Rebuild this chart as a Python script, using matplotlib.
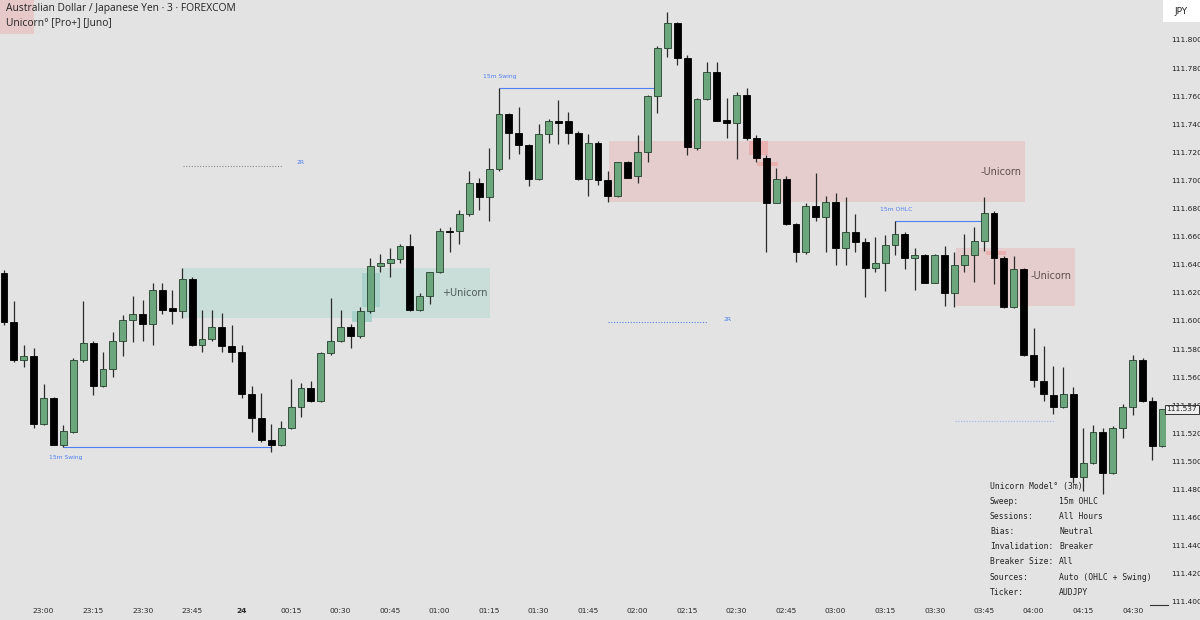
import matplotlib
matplotlib.use("Agg")
import matplotlib.pyplot as plt
from matplotlib.patches import Rectangle
import numpy as np

# ── colours ─────────────────────────────────────────────
BG = "#e3e3e3"
UP = "#6ca67c"
UP_EDGE = "#24402c"
DOWN = "#000000"
WICK = "#2a2a2a"
TEAL_ZONE = "#c9ddd9"
TEAL_INNER = "#a9d2cb"
RED_ZONE = "#e6cdcd"
RED_INNER = "#eab1b1"
BLUE = "#4f7ff0"
TXT = "#222222"

# ── candles (3m AUDJPY, 22:48 -> 04:39) ─────────────────
opens = [111.634, 111.599, 111.572, 111.575, 111.527, 111.545, 111.512, 111.521, 111.572, 111.584,
         111.554, 111.566, 111.586, 111.601, 111.605, 111.598, 111.622, 111.609, 111.607, 111.630,
         111.583, 111.587, 111.596, 111.582, 111.578, 111.548, 111.531, 111.515, 111.512, 111.524,
         111.539, 111.552, 111.543, 111.577, 111.586, 111.596, 111.589, 111.607, 111.639, 111.641,
         111.644, 111.653, 111.608, 111.618, 111.635, 111.664, 111.664, 111.676, 111.698, 111.688,
         111.708, 111.747, 111.734, 111.725, 111.701, 111.733, 111.742, 111.742, 111.734, 111.701,
         111.727, 111.700, 111.689, 111.713, 111.703, 111.720, 111.760, 111.794, 111.812, 111.787,
         111.723, 111.758, 111.777, 111.743, 111.741, 111.761, 111.730, 111.716, 111.684, 111.701,
         111.669, 111.649, 111.682, 111.674, 111.685, 111.652, 111.663, 111.656, 111.638, 111.641,
         111.654, 111.662, 111.645, 111.647, 111.627, 111.647, 111.620, 111.640, 111.647, 111.657,
         111.677, 111.645, 111.610, 111.637, 111.576, 111.557, 111.547, 111.539, 111.548, 111.489,
         111.499, 111.521, 111.492, 111.524, 111.539, 111.572, 111.543, 111.511]
highs = [111.636, 111.614, 111.583, 111.581, 111.555, 111.546, 111.526, 111.574, 111.614, 111.586,
         111.578, 111.592, 111.604, 111.618, 111.615, 111.627, 111.627, 111.622, 111.638, 111.631,
         111.608, 111.608, 111.606, 111.597, 111.583, 111.554, 111.549, 111.527, 111.529, 111.559,
         111.556, 111.557, 111.578, 111.616, 111.608, 111.598, 111.610, 111.645, 111.648, 111.652,
         111.655, 111.662, 111.620, 111.635, 111.666, 111.667, 111.679, 111.707, 111.702, 111.723,
         111.766, 111.748, 111.752, 111.726, 111.740, 111.744, 111.757, 111.749, 111.735, 111.733,
         111.728, 111.707, 111.713, 111.714, 111.732, 111.761, 111.796, 111.820, 111.813, 111.789,
         111.759, 111.784, 111.784, 111.759, 111.763, 111.766, 111.732, 111.718, 111.709, 111.703,
         111.670, 111.684, 111.705, 111.689, 111.691, 111.688, 111.676, 111.659, 111.660, 111.661,
         111.671, 111.663, 111.652, 111.648, 111.648, 111.653, 111.649, 111.662, 111.667, 111.688,
         111.678, 111.646, 111.646, 111.638, 111.595, 111.582, 111.568, 111.567, 111.553, 111.524,
         111.526, 111.524, 111.525, 111.541, 111.576, 111.574, 111.546, 111.537]
lows = [111.597, 111.571, 111.567, 111.524, 111.526, 111.512, 111.510, 111.520, 111.571, 111.547,
        111.553, 111.560, 111.575, 111.585, 111.586, 111.583, 111.605, 111.598, 111.602, 111.582,
        111.578, 111.586, 111.578, 111.571, 111.545, 111.521, 111.514, 111.507, 111.511, 111.523,
        111.532, 111.542, 111.542, 111.576, 111.585, 111.581, 111.588, 111.606, 111.635, 111.631,
        111.641, 111.607, 111.607, 111.612, 111.634, 111.649, 111.655, 111.675, 111.679, 111.671,
        111.707, 111.715, 111.719, 111.696, 111.700, 111.727, 111.726, 111.726, 111.700, 111.689,
        111.697, 111.685, 111.688, 111.702, 111.698, 111.713, 111.748, 111.788, 111.782, 111.718,
        111.722, 111.757, 111.742, 111.730, 111.715, 111.729, 111.713, 111.649, 111.684, 111.668,
        111.642, 111.648, 111.671, 111.649, 111.640, 111.640, 111.649, 111.617, 111.635, 111.621,
        111.647, 111.637, 111.622, 111.627, 111.627, 111.611, 111.610, 111.635, 111.628, 111.650,
        111.626, 111.609, 111.609, 111.575, 111.553, 111.543, 111.534, 111.538, 111.485, 111.479,
        111.498, 111.477, 111.491, 111.517, 111.533, 111.542, 111.501, 111.510]
closes = [111.599, 111.572, 111.575, 111.527, 111.545, 111.512, 111.522, 111.572, 111.584, 111.554,
          111.566, 111.586, 111.601, 111.605, 111.598, 111.622, 111.608, 111.607, 111.630, 111.583,
          111.587, 111.596, 111.582, 111.578, 111.548, 111.531, 111.515, 111.512, 111.524, 111.539,
          111.552, 111.543, 111.577, 111.586, 111.596, 111.589, 111.607, 111.639, 111.641, 111.644,
          111.653, 111.608, 111.618, 111.635, 111.664, 111.663, 111.676, 111.698, 111.688, 111.708,
          111.747, 111.734, 111.725, 111.701, 111.733, 111.742, 111.741, 111.734, 111.701, 111.727,
          111.700, 111.689, 111.713, 111.702, 111.720, 111.760, 111.794, 111.812, 111.787, 111.724,
          111.758, 111.777, 111.742, 111.741, 111.761, 111.730, 111.716, 111.684, 111.701, 111.669,
          111.649, 111.682, 111.674, 111.685, 111.652, 111.663, 111.656, 111.638, 111.641, 111.654,
          111.662, 111.645, 111.647, 111.627, 111.647, 111.620, 111.640, 111.647, 111.657, 111.677,
          111.645, 111.610, 111.637, 111.576, 111.558, 111.548, 111.539, 111.548, 111.489, 111.499,
          111.521, 111.492, 111.524, 111.539, 111.572, 111.543, 111.511, 111.537]

time_labels = ["23:00", "23:15", "23:30", "23:45", "24", "00:15", "00:30", "00:45", "01:00",
               "01:15", "01:30", "01:45", "02:00", "02:15", "02:30", "02:45", "03:00", "03:15",
               "03:30", "03:45", "04:00", "04:15", "04:30"]
time_label_idx = [4 + 5 * k for k in range(len(time_labels))]
price_ticks = [111.400 + 0.02 * k for k in range(21)]
last_price = 111.537

# zones: (x0, x1, bottom, top) in bar index / price
bull_zone = (18.1, 49.1, 111.602, 111.638)
bull_inner = [(36.2, 38.0, 111.610, 111.634), (35.1, 37.2, 111.599, 111.607)]
bear_zones = [(61.1, 103.1, 111.685, 111.728), (96.2, 108.2, 111.611, 111.652)]
bear_inner = [(75.2, 77.2, 111.718, 111.728), (76.1, 78.2, 111.710, 111.713),
              (99.2, 101.2, 111.647, 111.650)]

# swept levels: (x0, x1, price, label, label_x, label_y)
sweeps = [(6, 27, 111.510, "15m Swing", 6.2, 111.503),
          (50, 66, 111.766, "15m Swing", 50.1, 111.774),
          (90, 99, 111.671, "15m OHLC", 90.1, 111.679)]
# 2R targets: (x0, x1, price, colour)
targets = [(18.1, 28.1, 111.710, "#8a8a8a"), (61.0, 71.0, 111.599, "#5a7fe0"),
           (96.1, 106.2, 111.529, "#9db2ee")]

info_rows = [("Unicorn Model° (3m)", ""), ("Sweep:", "15m OHLC"), ("Sessions:", "All Hours"),
             ("Bias:", "Neutral"), ("Invalidation:", "Breaker"), ("Breaker Size:", "All"),
             ("Sources:", "Auto (OHLC + Swing)"), ("Ticker:", "AUDJPY")]

# ── figure ──────────────────────────────────────────────
W, H = 1200, 620
fig = plt.figure(figsize=(W / 100, H / 100), dpi=100, facecolor=BG)
ax = fig.add_axes([0, 18 / H, 1166 / W, 602 / H])
ax.set_facecolor(BG)
for s in ax.spines.values():
    s.set_visible(False)

n = len(opens)
x = np.arange(n)
o = np.array(opens); c = np.array(closes)
hi = np.array(highs); lo = np.array(lows)
up = c >= o

# zones
x0, x1, b, t = bull_zone
ax.add_patch(Rectangle((x0, b), x1 - x0, t - b, color=TEAL_ZONE, lw=0, zorder=1))
for x0, x1, b, t in bull_inner:
    ax.add_patch(Rectangle((x0, b), x1 - x0, t - b, color=TEAL_INNER, lw=0, zorder=1.2))
for x0, x1, b, t in bear_zones:
    ax.add_patch(Rectangle((x0, b), x1 - x0, t - b, color=RED_ZONE, lw=0, zorder=1))
for x0, x1, b, t in bear_inner:
    ax.add_patch(Rectangle((x0, b), x1 - x0, t - b, color=RED_INNER, lw=0, zorder=1.2))

ax.text(48.8, 111.620, "+Unicorn", ha="right", va="center", fontsize=7, color="#4d5a57",
        family="DejaVu Sans", zorder=2)
ax.text(102.8, 111.706, "-Unicorn", ha="right", va="center", fontsize=7, color="#5d4d4d",
        family="DejaVu Sans", zorder=2)
ax.text(107.8, 111.632, "-Unicorn", ha="right", va="center", fontsize=7, color="#5d4d4d",
        family="DejaVu Sans", zorder=2)

# swept levels
for x0, x1, p, lab, lx, ly in sweeps:
    ax.hlines(p, x0, x1, color=BLUE, lw=0.8, zorder=2)
    ax.text(lx, ly, lab, ha="center", va="center", fontsize=4.3, color=BLUE, zorder=2)

# targets
for x0, x1, p, col in targets:
    ax.hlines(p, x0, x1, color=col, lw=0.8, linestyles=(0, (1, 1.5)), zorder=2)
ax.text(30.0, 111.713, "2R", ha="center", va="center", fontsize=4.3, color=BLUE)
ax.text(73.1, 111.601, "2R", ha="center", va="center", fontsize=4.3, color=BLUE)

# candles
bw = 0.7
ax.vlines(x, lo, hi, color=WICK, lw=0.9, zorder=3)
body_lo = np.minimum(o, c)
body_h = np.maximum(np.abs(c - o), 0.0012)
ax.bar(x[up], body_h[up], bw, bottom=body_lo[up], color=UP, edgecolor=UP_EDGE, lw=0.6, zorder=4)
ax.bar(x[~up], body_h[~up], bw, bottom=body_lo[~up], color=DOWN, edgecolor=DOWN, lw=0.6, zorder=4)

ax.set_xlim(-0.404, 117.37)
ax.set_ylim(111.40071, 111.82842)

# axes ticks
ax.yaxis.tick_right()
ax.set_yticks(price_ticks)
ax.set_yticklabels([f"{p:.3f}" for p in price_ticks])
ax.tick_params(axis="y", length=0, pad=3.5, labelsize=5.4, labelcolor="#1e1e1e")
ax.set_xticks(time_label_idx)
ax.set_xticklabels(time_labels)
ax.tick_params(axis="x", length=0, pad=4, labelsize=5.4, labelcolor="#2a2a2a")
for tl in ax.get_xticklabels():
    if tl.get_text() == "24":
        tl.set_fontweight("bold")

# last price tag
ax.annotate(f"{last_price:.3f}", xy=(1.0, last_price), xycoords=("axes fraction", "data"),
            xytext=(11.5, 0), textcoords="offset points", ha="center", va="center",
            fontsize=5.4, color="#222222", annotation_clip=False, zorder=6,
            bbox=dict(boxstyle="square,pad=0.25", fc="#eeeeee", ec="#333333", lw=0.7))
fig.add_artist(plt.Line2D([1150 / W, 1168 / W], [1 - 605 / H, 1 - 605 / H],
                          color="#333333", lw=0.8))

# header
fig.patches.append(Rectangle((0, 1 - 34 / H), 34 / W, 34 / H, transform=fig.transFigure,
                             color="#e8c9c9", lw=0, zorder=0))
fig.text(6 / W, 1 - 9 / H, "Australian Dollar / Japanese Yen · 3 · FOREXCOM", ha="left",
         va="center", fontsize=7.4, color=TXT, family="Open Sans")
fig.text(6 / W, 1 - 23 / H, "Unicorn° [Pro+] [Juno]", ha="left", va="center",
         fontsize=7.4, color=TXT, family="Open Sans")
fig.patches.append(Rectangle((1163 / W, 1 - 22 / H), 37 / W, 22 / H, transform=fig.transFigure,
                             color="white", lw=0, zorder=0))
fig.text(1181 / W, 1 - 11 / H, "JPY", ha="center", va="center", fontsize=6.5, color=TXT)

# info table
for k, (lab, val) in enumerate(info_rows):
    yy = 1 - (486 + 15.2 * k) / H
    fig.text(990 / W, yy, lab, ha="left", va="center", fontsize=5.8, color=TXT,
             family="DejaVu Sans Mono")
    if val:
        fig.text(1059 / W, yy, val, ha="left", va="center", fontsize=5.8, color=TXT,
                 family="DejaVu Sans Mono")

fig.savefig("out.png", dpi=100, facecolor=BG)
